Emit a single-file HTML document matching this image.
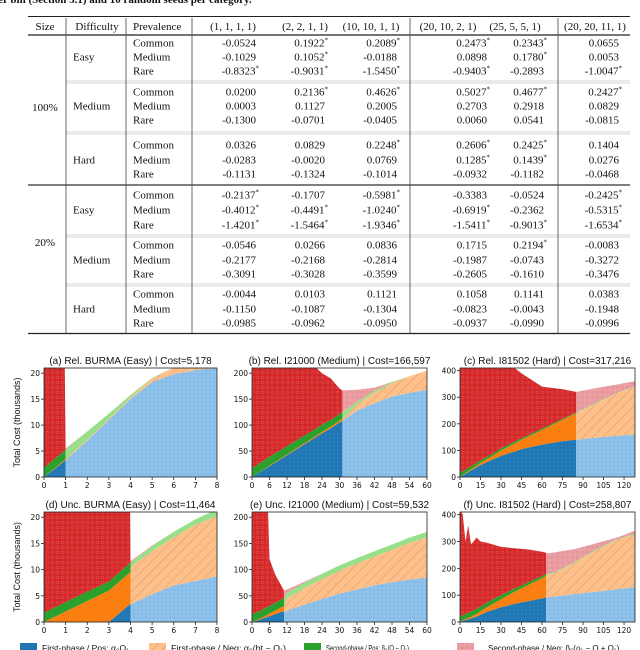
<!DOCTYPE html>
<html><head><meta charset="utf-8"><style>
html,body{margin:0;padding:0;background:#fff;width:640px;height:650px;overflow:hidden}
svg{display:block}
.ser{font-family:"Liberation Serif",serif;font-size:11px;fill:#111}
.sans{font-family:"Liberation Sans",sans-serif;fill:#111}
.tick{font-family:"DejaVu Sans",sans-serif;fill:#111}
</style></head><body>
<svg id="root" width="640" height="650" viewBox="0 0 640 650" xmlns="http://www.w3.org/2000/svg">
<defs>
<pattern id="hatch" patternUnits="userSpaceOnUse" width="7" height="7" patternTransform="rotate(45)"><line x1="0" y1="0" x2="0" y2="7" stroke="#8a8a8a" stroke-width="0.7"/></pattern>
<pattern id="dots" patternUnits="userSpaceOnUse" width="4" height="4"><circle cx="2" cy="2" r="0.6" fill="#5a9ad0"/></pattern>
<pattern id="circ" patternUnits="userSpaceOnUse" width="5" height="5"><circle cx="2.5" cy="2.5" r="1.5" fill="none" stroke="#e07a7a" stroke-width="0.5"/></pattern>
</defs>
<text x="-8" y="3" font-family="Liberation Serif,serif" font-weight="bold" font-size="11" fill="#111">per bin (Section 5.1) and 10 random seeds per category.</text>
<g id="table"></g>
<g id="charts"></g>
<g id="legend"></g>
</svg>
<script>
const NS="http://www.w3.org/2000/svg";
function mk(tag,attrs,parent,txt){const e=document.createElementNS(NS,tag);for(const k in attrs)e.setAttribute(k,attrs[k]);if(txt!==undefined)e.textContent=txt;parent.appendChild(e);return e;}

/* ---------------- TABLE ---------------- */
const colHeaders=["(1, 1, 1, 1)","(2, 2, 1, 1)","(10, 10, 1, 1)","(20, 10, 2, 1)","(25, 5, 5, 1)","(20, 20, 11, 1)"];
const prevalences=["Common","Medium","Rare"];
const difficulties=["Easy","Medium","Hard"];
const sizes=["100%","20%"];
const tableValues=[
["-0.0524","0.1922*","0.2089*","0.2473*","0.2343*","0.0655"],
["-0.1029","0.1052*","-0.0188","0.0898","0.1780*","0.0053"],
["-0.8323*","-0.9031*","-1.5450*","-0.9403*","-0.2893","-1.0047*"],
["0.0200","0.2136*","0.4626*","0.5027*","0.4677*","0.2427*"],
["0.0003","0.1127","0.2005","0.2703","0.2918","0.0829"],
["-0.1300","-0.0701","-0.0405","0.0060","0.0541","-0.0815"],
["0.0326","0.0829","0.2248*","0.2606*","0.2425*","0.1404"],
["-0.0283","-0.0020","0.0769","0.1285*","0.1439*","0.0276"],
["-0.1131","-0.1324","-0.1014","-0.0932","-0.1182","-0.0468"],
["-0.2137*","-0.1707","-0.5981*","-0.3383","-0.0524","-0.2425*"],
["-0.4012*","-0.4491*","-1.0240*","-0.6919*","-0.2362","-0.5315*"],
["-1.4201*","-1.5464*","-1.9346*","-1.5411*","-0.9013*","-1.6534*"],
["-0.0546","0.0266","0.0836","0.1715","0.2194*","-0.0083"],
["-0.2177","-0.2168","-0.2814","-0.1987","-0.0743","-0.3272"],
["-0.3091","-0.3028","-0.3599","-0.2605","-0.1610","-0.3476"],
["-0.0044","0.0103","0.1121","0.1058","0.1141","0.0383"],
["-0.1150","-0.1087","-0.1304","-0.0823","-0.0043","-0.1948"],
["-0.0985","-0.0962","-0.0950","-0.0937","-0.0990","-0.0996"]];
const T=document.getElementById('table');
const rowY=[43,57,71,92,106,120,145,160,174,195,210,225,245,260,274,294,309,323];
const colRight=[259,328,400,490,547,622];
const headCx=[233,305,371,448,515,595];
mk('line',{x1:28,x2:630,y1:16.5,y2:16.5,stroke:'#222','stroke-width':1},T);
mk('line',{x1:28,x2:630,y1:35,y2:35,stroke:'#222','stroke-width':1.2},T);
mk('line',{x1:28,x2:630,y1:185,y2:185,stroke:'#333','stroke-width':1.2},T);
mk('line',{x1:28,x2:630,y1:333.5,y2:333.5,stroke:'#222','stroke-width':1.2},T);
[81,132,235,284].forEach(y=>{mk('line',{x1:66,x2:630,y1:y,y2:y,stroke:'#aaa','stroke-width':0.6},T);mk('line',{x1:66,x2:630,y1:y+2,y2:y+2,stroke:'#aaa','stroke-width':0.6},T);});
[66,126,192,410,558].forEach(x=>{mk('line',{x1:x,x2:x,y1:18,y2:333,stroke:'#444','stroke-width':0.8},T);});
let h=mk('text',{x:45,y:30,'text-anchor':'middle',class:'ser'},T,'Size');

h=mk('text',{x:97,y:30,'text-anchor':'middle',class:'ser'},T,'Difficulty');

h=mk('text',{x:133,y:30,class:'ser'},T,'Prevalence');

colHeaders.forEach((c,i)=>{const e=mk('text',{x:headCx[i],y:30,'text-anchor':'middle',class:'ser'},T,c);

});
sizes.forEach((s,si)=>{const e=mk('text',{x:45,y:si?246:111,'text-anchor':'middle',class:'ser'},T,s);

});
for(let g=0;g<6;g++){const e=mk('text',{x:73,y:rowY[g*3+1]+3.5,class:'ser'},T,difficulties[g%3]);

}
tableValues.forEach((row,r)=>{
 const p=mk('text',{x:133,y:rowY[r]+3.5,class:'ser'},T,prevalences[r%3]);
 
 
 row.forEach((v,c)=>{const star=v.endsWith('*');const t=mk('text',{x:colRight[c]-(star?0:3),y:rowY[r]+3.5,'text-anchor':'end',class:'ser'},T);
  
  
  t.textContent=star?v.slice(0,-1):v;
  if(star){mk('tspan',{'font-size':'7','dy':'-4'},t,'*');}
 });
});

/* ---------------- CHART DATA ---------------- */
const aX=[0,0.9,0.999,1,2,3,4,5,6,7,8];
const aBlue=[0,2.9,3.2,3.2,7,11,15,18.3,19.8,20.6,21];
const aOrange=[0,0.2,0.3,0.3,0.2,0.2,0.3,0.7,1.3,1.5,1.5];
const aGreen=[1.8,1.8,1.8,1.8,1.6,1.0,0.5,0.1,0,0,0];
const aRed=[40,40,0.3,0.2,0,0,0,0,0,0,0];
const bX=[0,6,12,18,22,24,27,30,30.99,31,36,42,48,54,60];
const bBlue=[0,21,42,63,77,84,94,105,108,108,128,142,155,162,168];
const bOrange=[0,1,1.5,2,2.5,3,3,3.5,4,4,12,20,26,32,37];
const bGreen=[17,17,16,15,14,14,13,13,13,13,5,4,2,0,0];
const bRed=[283,261,240,220,117,99,80,49,42,42,23,6,0,0,0];
const cX=[0,15,25,30,40,45,60,75,84.9,85,100,115,128];
const cBlue=[0,45,68,80,96,105,122,135,140,140,148,155,160];
const cOrange=[0,8,15,20,30,35,55,80,100,100,130,160,180];
const cGreen=[15,10,8,8,7,6,5,4,3,3,2,2,2];
const cRed=[485,437,329,302,277,244,158,111,77,77,55,31,18];
const dX=[0,1,2,3,3.95,3.999,4,5,6,7,8];
const dBlue=[0,0,0,0,3.3,3.4,3.4,5.3,7,7.8,8.7];
const dOrange=[0,2,4,6,6.1,6.1,7.1,8.2,9.2,10.8,11.5];
const dGreen=[1.8,1.8,1.8,1.7,1.8,1.8,0.8,1,1,1,1.3];
const dRed=[30,30,30,30,30,0.5,0.3,0.1,0,0,0];
const eX=[0,3,5,6,8,10,10.99,11,12,18,24,30,36,42,48,54,60];
const eBlue=[0,5,9,11,15,19,20,20,22,33,44,54,62,70,76,81,85];
const eOrange=[0,2,4,5,7,9,10,10,23,32,38,44,50,55,62,70,77];
const eGreen=[15,15,15,15,15,15,15,15,11,10,10,10,10,10,10,10,10];
const eRed=[285,278,272,89,53,27,15,15,6,2,0,0,0,0,0,0,0];
const fX=[0,1,2,4,5,6,8,10,12,15,20,30,40,50,60,62.99,63,70,85,100,115,128];
const fBlue=[0,2,4,7,8,10,13,17,20,27,38,55,68,78,88,92,92,95,105,113,122,130];
const fOrange=[0,1,2,3,4,5,6,8,10,13,18,30,45,60,75,80,82,88,120,155,185,195];
const fGreen=[20,20,20,20,20,20,20,19,18,18,17,15,12,10,8,8,3,3,3,3,3,3];
const fRed=[390,387,374,270,298,325,251,256,267,242,222,180,150,122,91,78,78,74,45,23,5,12];
const titles=["(a) Rel. BURMA (Easy) | Cost=5,178","(b) Rel. I21000 (Medium) | Cost=166,597","(c) Rel. I81502 (Hard) | Cost=317,216","(d) Unc. BURMA (Easy) | Cost=11,464","(e) Unc. I21000 (Medium) | Cost=59,532","(f) Unc. I81502 (Hard) | Cost=258,807"];
const thresholds=[1,31,85,4,11,63];
const xMaxes=[8,60,128,8,60,128];
const yMaxes=[21,210,410,21,210,410];
const xTickSets=[[0,1,2,3,4,5,6,7,8],[0,6,12,18,24,30,36,42,48,54,60],[0,15,30,45,60,75,90,105,120]];
const yTickSets=[[0,5,10,15,20],[0,50,100,150,200],[0,100,200,300,400]];

const panels=[[aX,aBlue,aOrange,aGreen,aRed],[bX,bBlue,bOrange,bGreen,bRed],[cX,cBlue,cOrange,cGreen,cRed],[dX,dBlue,dOrange,dGreen,dRed],[eX,eBlue,eOrange,eGreen,eRed],[fX,fBlue,fOrange,fGreen,fRed]];
const colL=[44,252,460],colR=[217,427,635],rowT=[368,512],rowB=[477,622];
const darkC=['#1f77b4','#ff7f0e','#2ca02c','#d62728'];
const lightC=['#8ec2ea','#ffbf87','#98df8a','#eaa2a6'];
const pats=['url(#dots)','url(#hatch)',null,'url(#circ)'];
const layerNames=['first-phase-pos','first-phase-neg','second-phase-pos','second-phase-neg'];
const C=document.getElementById('charts');
panels.forEach((P,pi)=>{
 const col=pi%3,row=Math.floor(pi/3);
 const L=colL[col],R=colR[col],Tp=rowT[row],B=rowB[row];
 const xs=v=>L+(v/xMaxes[pi])*(R-L);
 const ys=v=>B-(v/yMaxes[pi])*(B-Tp);
 const g=mk('g',{},C);
 
 
 const cid='clip'+pi;
 const cp=mk('clipPath',{id:cid},g);mk('rect',{x:L,y:Tp,width:R-L,height:B-Tp},cp);
 const cl=mk('clipPath',{id:cid+'l'},g);mk('rect',{x:L,y:Tp,width:xs(thresholds[pi])-L,height:B-Tp},cl);
 const cr=mk('clipPath',{id:cid+'r'},g);mk('rect',{x:xs(thresholds[pi]),y:Tp,width:R-xs(thresholds[pi]),height:B-Tp},cr);
 const X=P[0];let base=X.map(()=>0);
 const inner=mk('g',{'clip-path':'url(#'+cid+')'},g);
 for(let k=0;k<4;k++){
  const vals=P[k+1];const top=base.map((b,i)=>b+vals[i]);
  let d='M'+X.map((x,i)=>xs(x).toFixed(2)+','+ys(top[i]).toFixed(2)).join('L');
  for(let i=X.length-1;i>=0;i--)d+='L'+xs(X[i]).toFixed(2)+','+ys(base[i]).toFixed(2);d+='Z';
  ['l','r'].forEach(side=>{
   const sg=mk('g',{'clip-path':'url(#'+cid+side+')'},inner);
   const p=mk('path',{d:d,fill:side==='l'?darkC[k]:lightC[k]},sg);
   
   
   if(pats[k])mk('path',{d:d,fill:pats[k],opacity:side==='l'?0.6:0.8},sg);
  });
  base=top;
 }
 mk('rect',{x:L,y:Tp,width:R-L,height:B-Tp,fill:'none',stroke:'#222','stroke-width':0.8},g);
 const tt=mk('text',{x:(L+R)/2,y:Tp-4,'text-anchor':'middle',class:'sans','font-size':'10'},g,titles[pi]);
 
 
 xTickSets[col].forEach(v=>{mk('line',{x1:xs(v),x2:xs(v),y1:B,y2:B+3,stroke:'#222','stroke-width':0.8},g);
  const t=mk('text',{x:xs(v),y:B+11,'text-anchor':'middle',class:'tick','font-size':'7.5'},g,String(v));
  
  });
 yTickSets[col].forEach(v=>{mk('line',{x1:L-3,x2:L,y1:ys(v),y2:ys(v),stroke:'#222','stroke-width':0.8},g);
  const t=mk('text',{x:L-4,y:ys(v)+3,'text-anchor':'end',class:'tick','font-size':'7.5'},g,String(v));
  
  });
 if(col===0){const yl=mk('text',{x:0,y:0,transform:'translate(20,'+((Tp+B)/2)+') rotate(-90)','text-anchor':'middle',class:'sans','font-size':'9'},g,'Total Cost (thousands)');
  
  }
});

/* ---------------- LEGEND ---------------- */
const Lg=document.getElementById('legend');
const legendLabels=['First-phase / Pos: α₀O₁','First-phase / Neg: α₀(bt − O₁)','Second-phase / Pos: β₀(O − O₁)','Second-phase / Neg: β₀(ρ₁ − O + O₁)'];
const legX=[20,149,304,457];
const legW=[87,115,83,0];
legendLabels.forEach((lab,i)=>{
 const r=mk('rect',{x:legX[i],y:643,width:17,height:8,fill:i===0?'#1f77b4':i===1?'#ffbf87':i===2?'#2ca02c':'#eaa2a6'},Lg);
 
 
 if(i===1)mk('rect',{x:legX[i],y:643,width:17,height:8,fill:'url(#hatch)'},Lg);
 if(i===3)mk('rect',{x:legX[i],y:643,width:17,height:8,fill:'url(#circ)'},Lg);
 const at={x:legX[i]+(i===3?31:22),y:651,class:'sans','font-size':'8'};
 if(legW[i]){at.textLength=legW[i];at.lengthAdjust='spacingAndGlyphs';}
 const t=mk('text',at,Lg,lab);
 
 
});
</script>
</body></html>
